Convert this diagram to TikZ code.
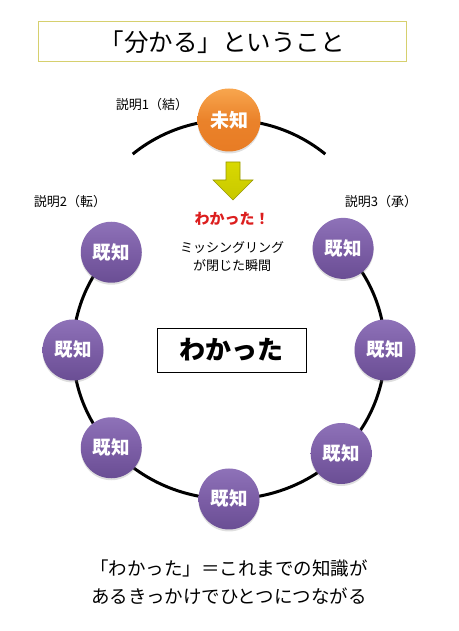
\documentclass[tikz,border=0pt]{standalone}
\usepackage{fontspec}
\setmainfont{Noto Sans CJK JP}
\usepackage{xcolor}
\usepackage{tikz}
\usetikzlibrary{shadows, calc}
\definecolor{kipurple}{RGB}{124,94,166}
\definecolor{kipurplelt}{RGB}{142,114,184}
\definecolor{kipurpledk}{RGB}{106,78,148}
\definecolor{miorangelt}{RGB}{248,166,78}
\definecolor{miorangedk}{RGB}{232,124,36}
\definecolor{titleyellow}{RGB}{214,208,110}
\definecolor{arrowyellow}{RGB}{200,200,0}
\definecolor{arrowyellowdk}{RGB}{150,150,0}
\definecolor{ahared}{RGB}{220,30,30}

\tikzset{
  kichi/.style={circle, minimum size=61pt, inner sep=0pt, top color=kipurplelt, bottom color=kipurpledk, middle color=kipurple, text=white, font=\fontsize{18.5}{20}\selectfont\bfseries, drop shadow={opacity=0.25, shadow xshift=0pt, shadow yshift=-2pt}},
  michi/.style={kichi, minimum size=63pt, top color=miorangelt, bottom color=miorangedk, middle color=miorangedk!85!miorangelt, font=\fontsize{19}{21}\selectfont\bfseries},
  ring/.style={line width=3pt, black},
  setsumei/.style={font=\fontsize{13}{15}\selectfont},
}

\begin{document}
\begin{tikzpicture}[x=1pt,y=1pt]
\useasboundingbox (0,0) rectangle (458,631);
% Title
\node[draw=titleyellow, line width=1pt, minimum width=368pt, minimum height=40pt, font=\fontsize{24.5}{28}\selectfont] (title) at (222,589) {「分かる」ということ};

% Ring of known things
\coordinate (rc) at (229,281);
\draw[ring] ($(rc)+(139:156pt and 149pt)$) arc[start angle=139, end angle=403, x radius=156pt, y radius=149pt];
\foreach \a [count=\i] in {139,180,221,270,316,360,403}
  \node[kichi] (k\i) at ($(rc)+(\a:156pt and 149pt)$) {既知};

% Missing piece on top
\coordinate (tc) at (229,358);
\draw[ring] ($(tc)+(129:153pt)$) arc[start angle=129, end angle=51, radius=153pt];
\node[michi] (michi) at ($(tc)+(90:153pt)$) {未知};

% Explanations
\node[setsumei] (s1) at (152,526) {説明1（結）};
\node[setsumei] (s2) at (70,429) {説明2（転）};
\node[setsumei] (s3) at (381,429) {説明3（承）};

% Block arrow
\draw[top color=arrowyellow!70!yellow, bottom color=arrowyellow, draw=arrowyellowdk, line width=0.6pt] (226,469) -- (240,469) -- (240,451) -- (253,451) -- (233,431) -- (213,451) -- (226,451) -- cycle;

\node[text=ahared, font=\fontsize{15}{17}\selectfont\bfseries] (aha) at (232,412) {わかった！};
\node[align=center, font=\fontsize{13}{18}\selectfont] (miss) at (232,374) {ミッシングリング\\が閉じた瞬間};

% Center box
\node[draw, line width=0.8pt, minimum width=149pt, minimum height=44pt, font=\fontsize{26}{30}\selectfont\bfseries] (wakatta) at (231.5,281) {わかった};

% Summary
\node[align=center, font=\fontsize{18.5}{28}\selectfont] (summary) at (229,49) {「わかった」＝これまでの知識が\\あるきっかけでひとつにつながる};
\end{tikzpicture}
\end{document}
